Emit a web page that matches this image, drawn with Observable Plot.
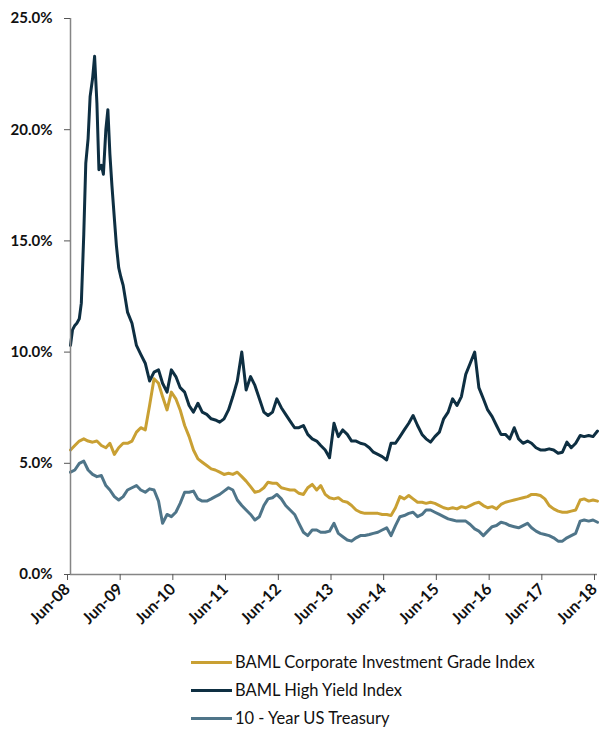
<!DOCTYPE html>
<html><head><meta charset="utf-8">
<script src="https://cdn.jsdelivr.net/npm/d3@7"></script>
<script src="https://cdn.jsdelivr.net/npm/@observablehq/plot@0.6"></script>
<style>
body{margin:0;background:#fff;font-family:Lato,sans-serif;}
#legend{padding-left:191px;padding-top:3px}
.row{display:flex;align-items:center;height:28px;font-size:16.5px;line-height:20px;color:#111}
.sw{width:41px;height:3px;margin-right:3px}
</style></head><body><div id="chart"></div><div id="legend"></div>
<script>
const seriesNames = ["BAML Corporate Investment Grade Index","BAML High Yield Index","10 - Year US Treasury"];
const seriesColors = ["#c9a033","#0e2f42","#4f7589"];
const tickYears = [2008,2009,2010,2011,2012,2013,2014,2015,2016,2017,2018];
const yTicks = [0,5,10,15,20,25];

// monthly dates Jun-08 .. Jun-18
const months = d3.utcMonth.range(new Date(Date.UTC(2008,5,1)), new Date(Date.UTC(2018,6,1)));

const igValues = [5.6,5.8,6.0,6.1,6.0,5.95,6.0,5.8,5.7,5.9,5.4,5.7,5.9,5.9,6.0,6.4,6.6,6.5,7.6,8.8,
8.6,8.0,7.4,8.2,7.9,7.4,6.7,6.2,5.6,5.2,5.05,4.9,4.75,4.7,4.6,4.5,4.55,4.5,4.6,4.4,
4.2,3.95,3.7,3.75,3.9,4.15,4.1,4.1,3.9,3.85,3.8,3.8,3.65,3.6,3.9,4.05,3.8,4.0,3.6,3.45,
3.4,3.45,3.3,3.25,3.1,2.9,2.8,2.75,2.75,2.75,2.75,2.7,2.7,2.65,3.0,3.5,3.4,3.55,3.4,3.25,
3.25,3.2,3.25,3.2,3.1,3.0,2.95,3.0,2.95,3.05,3.0,3.1,3.2,3.25,3.1,3.0,3.05,2.95,3.15,3.25,
3.3,3.35,3.4,3.45,3.5,3.6,3.6,3.55,3.4,3.1,2.95,2.85,2.8,2.8,2.85,2.9,3.35,3.4,3.3,3.35,3.3];

const tsyValues = [4.6,4.7,5.0,5.1,4.7,4.5,4.4,4.45,4.0,3.8,3.5,3.35,3.5,3.8,3.9,4.0,3.8,3.7,3.85,3.8,
3.3,2.3,2.7,2.6,2.8,3.2,3.7,3.7,3.75,3.4,3.3,3.3,3.4,3.5,3.6,3.75,3.9,3.8,3.35,3.1,
2.9,2.7,2.45,2.6,3.1,3.4,3.45,3.6,3.4,3.1,2.9,2.7,2.3,1.9,1.75,2.0,2.0,1.9,1.9,1.95,
2.3,1.85,1.7,1.55,1.5,1.65,1.75,1.75,1.8,1.85,1.9,2.0,2.1,1.75,2.2,2.6,2.65,2.75,2.8,2.6,
2.7,2.9,2.9,2.8,2.7,2.6,2.5,2.45,2.4,2.4,2.4,2.25,2.05,1.95,1.75,1.95,2.15,2.2,2.35,2.3,
2.2,2.15,2.1,2.2,2.3,2.1,1.95,1.85,1.8,1.75,1.65,1.5,1.5,1.65,1.75,1.85,2.4,2.45,2.4,2.45,2.35];

// high yield: half-monthly through the 2008-09 spike, then monthly
const hyCrisisDates = ["2008-06-01","2008-06-15","2008-07-01","2008-07-15","2008-08-01","2008-08-15",
"2008-09-01","2008-09-15","2008-10-01","2008-10-15","2008-11-01","2008-11-15","2008-12-01","2008-12-15",
"2009-01-01","2009-01-15","2009-02-01","2009-02-15","2009-03-01","2009-03-15","2009-04-01","2009-04-15",
"2009-05-01","2009-05-15","2009-06-01"];
const hyValues = [10.3,11.0,11.2,11.3,11.5,12.2,15.3,18.5,19.6,21.5,22.3,23.3,21.2,18.2,
18.4,18.0,20.0,20.9,18.9,17.5,16.0,14.8,13.8,13.4,13.0,
11.8,11.3,10.3,9.9,9.5,8.7,9.1,9.2,8.6,8.2,9.2,8.9,8.4,8.2,7.6,7.3,7.7,7.3,7.2,7.0,
6.95,6.85,7.0,7.4,8.0,8.7,10.0,8.3,8.9,8.5,7.9,7.3,7.15,7.3,7.9,7.5,7.2,6.9,6.6,6.6,
6.7,6.3,6.1,6.0,5.8,5.6,5.25,6.8,6.2,6.5,6.3,6.0,6.0,5.9,5.85,5.7,5.5,5.4,5.3,5.15,
5.9,5.9,6.2,6.5,6.8,7.15,6.7,6.3,6.1,5.95,6.2,6.4,7.0,7.3,7.9,7.6,8.0,9.0,9.5,10.0,
8.4,7.9,7.4,7.1,6.7,6.3,6.3,6.1,6.6,6.1,5.9,6.0,5.9,5.7,5.6,5.6,5.65,5.6,5.45,5.5,
5.95,5.7,5.9,6.25,6.2,6.25,6.2,6.45];
const hyDates = hyCrisisDates.map(s => new Date(s + "T00:00:00Z")).concat(months.slice(13));

const rows = [];
months.forEach((d, i) => {
  if (i < igValues.length) rows.push({date: d, value: igValues[i], series: seriesNames[0]});
});
hyDates.forEach((d, i) => {
  if (i < hyValues.length) rows.push({date: d, value: hyValues[i], series: seriesNames[1]});
});
months.forEach((d, i) => {
  if (i < tsyValues.length) rows.push({date: d, value: tsyValues[i], series: seriesNames[2]});
});

const start = new Date(Date.UTC(2008,5,1));
const end = new Date(Date.UTC(2018,5,1));
const tickDates = tickYears.map(y => new Date(Date.UTC(y,5,1)));
const fmt = d3.utcFormat("%b-%y");

const chart = Plot.plot({
  width: 603,
  height: 645,
  marginLeft: 70,
  marginRight: 6,
  marginTop: 18,
  marginBottom: 71,
  style: {fontFamily: "Lato, sans-serif", background: "#fff", overflow: "visible"},
  x: {type: "utc", domain: [start, end]},
  y: {domain: [0, 25]},
  color: {domain: seriesNames, range: seriesColors},
  marks: [
    Plot.lineY(rows.filter(r => r.series === seriesNames[0]), {x: "date", y: "value", stroke: "series", strokeWidth: 3}),
    Plot.lineY(rows.filter(r => r.series === seriesNames[1]), {x: "date", y: "value", stroke: "series", strokeWidth: 3}),
    Plot.lineY(rows.filter(r => r.series === seriesNames[2]), {x: "date", y: "value", stroke: "series", strokeWidth: 3}),
    Plot.ruleX([start], {stroke: "#858585", strokeWidth: 1.5}),
    Plot.ruleY([0], {stroke: "#858585", strokeWidth: 1.5}),
    Plot.axisY({ticks: yTicks, tickFormat: d => d.toFixed(1) + "%", tickSize: 6, tickPadding: 12,
      fontWeight: "bold", fontSize: 15, stroke: "#555", fill: "#111", label: null}),
    Plot.axisX({ticks: tickDates, tickFormat: fmt, tickRotate: -45, tickSize: 6, tickPadding: 6,
      fontWeight: "bold", fontSize: 16, stroke: "#555", fill: "#111", label: null, dx: -3})
  ]
});
document.getElementById("chart").appendChild(chart);

const legend = document.getElementById("legend");
seriesNames.forEach((n, i) => {
  const row = document.createElement("div");
  row.className = "row";
  const sw = document.createElement("div");
  sw.className = "sw";
  sw.style.background = seriesColors[i];
  const t = document.createElement("span");
  t.textContent = n;
  row.appendChild(sw); row.appendChild(t);
  legend.appendChild(row);
});
</script></body></html>
